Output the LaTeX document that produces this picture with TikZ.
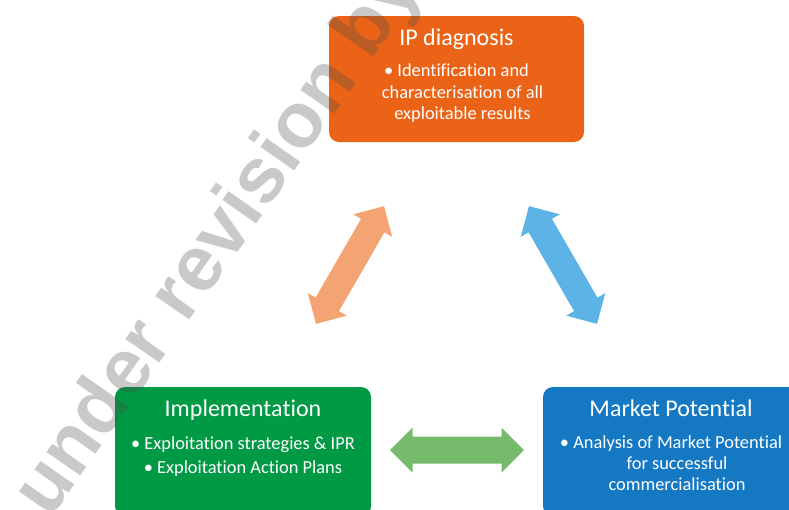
\documentclass[tikz,border=0pt]{standalone}
\usepackage{fontspec}
\setmainfont{Carlito}[Ligatures=NoCommon]
\newfontfamily\wmfont{Liberation Sans}
\definecolor{ipbox}{RGB}{234,99,22}
\definecolor{imbox}{RGB}{0,153,68}
\definecolor{mpbox}{RGB}{20,120,195}
\definecolor{arrO}{RGB}{244,163,115}
\definecolor{arrB}{RGB}{93,179,230}
\definecolor{arrG}{RGB}{117,187,107}
\tikzset{
  box/.style={rounded corners=10pt},
  ttl/.style={text=white, font=\fontsize{24}{24}\selectfont, inner sep=0pt, anchor=base},
  bod/.style={text=white, font=\fontsize{18.4}{18.4}\selectfont, inner sep=0pt, anchor=base},
}
% double arrow: #1 colour, #2 centre, #3 angle, #4 half length
\newcommand{\dblarrow}[4]{%
  \fill[#1, shift={#2}, rotate=#3]
    (-#4,0) -- ({-#4+22.5},22.5) -- ({-#4+22.5},13.5) -- ({#4-22.5},13.5)
    -- ({#4-22.5},22.5) -- (#4,0) -- ({#4-22.5},-22.5) -- ({#4-22.5},-13.5)
    -- ({-#4+22.5},-13.5) -- ({-#4+22.5},-22.5) -- cycle;}
\begin{document}
\begin{tikzpicture}[x=1pt,y=-1pt]
\useasboundingbox (0,0) rectangle (789,509);
% boxes
\fill[ipbox, box] (329,16) rectangle (584,142);
\fill[imbox, box] (115,387) rectangle (371,516);
\fill[mpbox, box] (543,387) rectangle (799,516);
% IP diagnosis
\node[ttl] (ipt) at (456.5,45.7) {IP diagnosis};
\node[bod] (ip1) at (456.5,76.7) {• Identification and};
\node[bod] (ip2) at (462.5,98) {characterisation of all};
\node[bod] (ip3) at (462.5,119.3) {exploitable results};
% Implementation
\node[ttl] (imt) at (243,416.7) {Implementation};
\node[bod] (im1) at (243,449) {• Exploitation strategies \& IPR};
\node[bod] (im2) at (243,473) {• Exploitation Action Plans};
% Market Potential
\node[ttl] (mpt) at (671,416.7) {Market Potential};
\node[bod] (mp1) at (671,448) {• Analysis of Market Potential};
\node[bod] (mp2) at (677,469.5) {for successful};
\node[bod] (mp3) at (677,490.5) {commercialisation};
% arrows
\dblarrow{arrO}{(350,265)}{60}{68}
\dblarrow{arrB}{(563,265)}{120}{68}
\dblarrow{arrG}{(457,450)}{0}{67}
% watermark
\node[anchor=base west, inner sep=0pt, rotate=55, text=black!70, text opacity=0.3,
      font=\wmfont\bfseries\fontsize{78}{78}\selectfont] (wm) at (50,520) {under revision by};
\end{tikzpicture}
\end{document}
